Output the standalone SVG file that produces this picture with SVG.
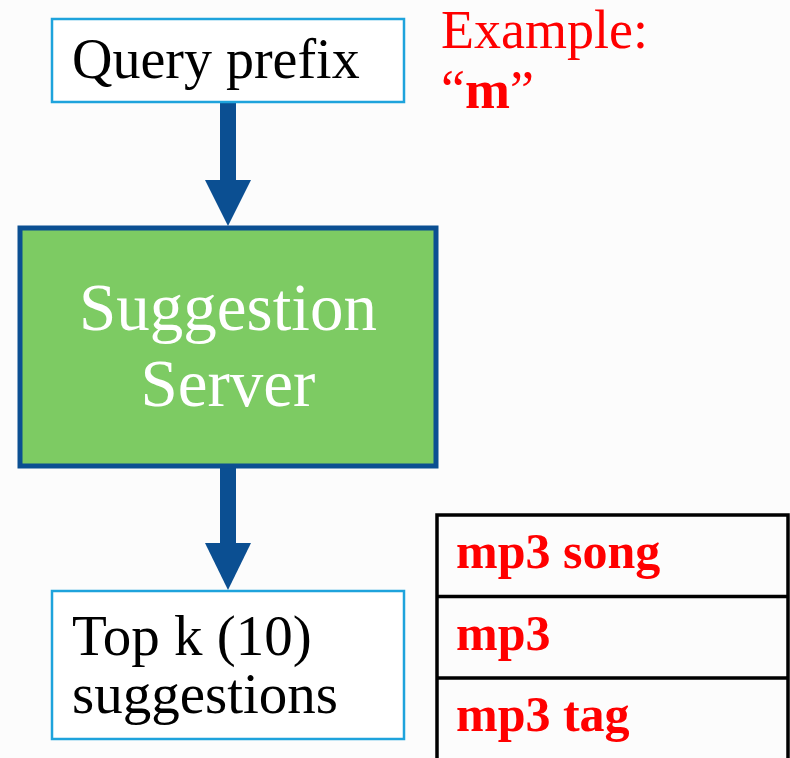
<svg xmlns="http://www.w3.org/2000/svg" width="790" height="758" viewBox="0 0 790 758">
  <style>
    .bg { fill: #fcfcfc; }
    .io { fill: #ffffff; stroke: #1ea3dc; stroke-width: 2.5; }
    .server { fill: #7dcb63; stroke: #0b4f92; stroke-width: 5; }
    .flow { fill: #0b4f92; }
    .txt { font-family: "Liberation Serif", "DejaVu Serif", serif; fill: #000000; }
    .white { fill: #ffffff; }
    .red { fill: #ff0000; }
    .grid { stroke: #000000; stroke-width: 3.5; fill: none; }
  </style>
  <rect class="bg" x="0" y="0" width="790" height="758"/>

  <!-- flow arrows: shaft plus triangular head -->
  <g id="connectors">
    <rect class="flow" x="220" y="102" width="16" height="80"/>
    <path class="flow" d="M205 180 L251 180 L228 226 Z"/>
    <rect class="flow" x="220" y="467" width="16" height="78"/>
    <path class="flow" d="M205 543 L251 543 L228 590 Z"/>
  </g>

  <g id="query-prefix">
    <rect class="io" x="52" y="19" width="352" height="83"/>
    <text class="txt" x="72" y="78" font-size="56">Query prefix</text>
  </g>

  <g id="example">
    <text class="txt red" x="441" y="48" font-size="54">Example:</text>
    <text class="txt red" x="441" y="108" font-size="54">“<tspan font-weight="bold">m</tspan>”</text>
  </g>

  <g id="suggestion-server">
    <rect class="server" x="20" y="228" width="416" height="238"/>
    <text class="txt white" x="228" y="330" font-size="67" text-anchor="middle">Suggestion</text>
    <text class="txt white" x="228" y="406" font-size="67" text-anchor="middle">Server</text>
  </g>

  <g id="top-k">
    <rect class="io" x="52" y="591" width="352" height="148"/>
    <text class="txt" x="72" y="655" font-size="57">Top k (10)</text>
    <text class="txt" x="72" y="713" font-size="57">suggestions</text>
  </g>

  <g id="results-table">
    <path class="grid" d="M437 758 L437 515 L788 515 L788 758 M437 596.5 L788 596.5 M437 678 L788 678"/>
    <text class="txt red" x="456" y="568" font-size="50" font-weight="bold">mp3 song</text>
    <text class="txt red" x="456" y="650" font-size="50" font-weight="bold">mp3</text>
    <text class="txt red" x="456" y="731" font-size="50" font-weight="bold">mp3 tag</text>
  </g>
</svg>
